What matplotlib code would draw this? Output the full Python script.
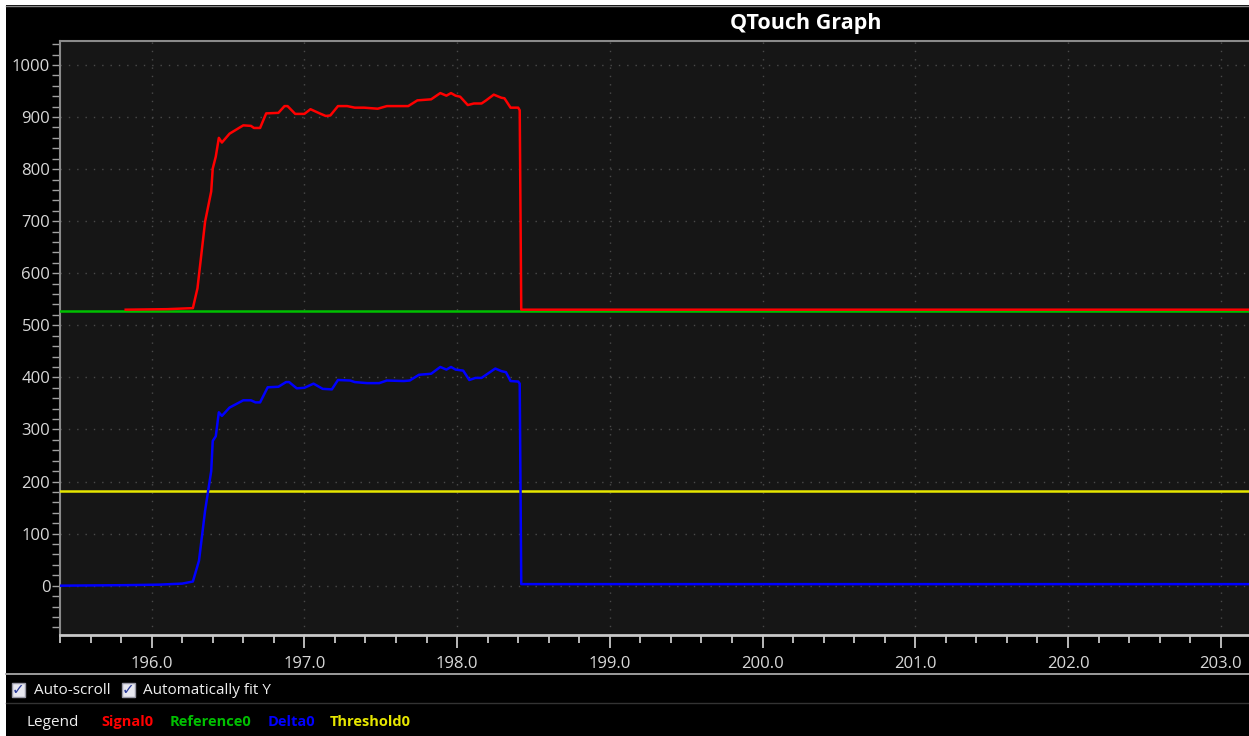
import matplotlib
matplotlib.use("Agg")
import matplotlib.pyplot as plt
from matplotlib.patches import Rectangle
from matplotlib.lines import Line2D
from matplotlib.ticker import MultipleLocator, FormatStrFormatter

# time (s) / value pairs
signal_t = [195.83, 196.10, 196.27, 196.30, 196.35, 196.39, 196.40, 196.42, 196.44,
            196.46, 196.51, 196.60, 196.65, 196.67, 196.71, 196.75, 196.83, 196.87,
            196.89, 196.94, 197.00, 197.04, 197.10, 197.14, 197.17, 197.22, 197.28,
            197.33, 197.39, 197.48, 197.54, 197.68, 197.74, 197.83, 197.89, 197.93,
            197.96, 197.99, 198.02, 198.07, 198.11, 198.16, 198.19, 198.24, 198.29,
            198.31, 198.35, 198.40, 198.41, 198.42, 203.19]
signal_v = [530, 531, 533, 571, 699, 757, 801, 824, 860,
            851, 868, 884, 883, 879, 879, 907, 908, 921,
            921, 906, 906, 915, 907, 902, 903, 921, 921,
            918, 918, 916, 921, 921, 932, 934, 946, 941,
            946, 941, 939, 923, 926, 926, 932, 943, 937,
            936, 918, 918, 913, 530, 530]

reference_t = [195.40, 203.19]
reference_v = [527, 527]

delta_t = [195.40, 195.83, 196.05, 196.20, 196.27, 196.31, 196.35, 196.39, 196.40,
           196.42, 196.44, 196.46, 196.51, 196.60, 196.65, 196.68, 196.71, 196.76,
           196.83, 196.88, 196.90, 196.95, 197.00, 197.06, 197.12, 197.18, 197.22,
           197.30, 197.33, 197.41, 197.49, 197.54, 197.65, 197.69, 197.75, 197.83,
           197.89, 197.93, 197.96, 197.99, 198.04, 198.08, 198.12, 198.16, 198.20,
           198.25, 198.29, 198.32, 198.35, 198.40, 198.41, 198.42, 203.19]
delta_v = [0, 1, 2, 4, 8, 48, 144, 220, 278,
           287, 333, 326, 342, 356, 356, 352, 352, 381,
           382, 391, 391, 379, 380, 388, 378, 377, 395,
           394, 391, 389, 389, 394, 393, 394, 405, 407,
           420, 415, 420, 415, 413, 395, 399, 399, 407,
           417, 412, 410, 393, 392, 388, 3, 3]

threshold_t = [195.40, 203.19]
threshold_v = [181, 181]

legend_names = ["Signal0", "Reference0", "Delta0", "Threshold0"]
legend_colors = ["#ff0000", "#00c000", "#0000ff", "#e6e600"]

W, H = 1249, 736
FONT = ["Open Sans", "DejaVu Sans"]
plt.rcParams["font.family"] = FONT

fig = plt.figure(figsize=(W / 100, H / 100), dpi=100, facecolor="black")


def fx(px):
    return px / W


def fy(py):
    return 1 - py / H


ax = fig.add_axes([fx(60), fy(635), fx(W - 60), fy(41) - fy(635)])
ax.set_facecolor("#161616")

ax.plot(reference_t, reference_v, color=legend_colors[1], lw=1.8, zorder=3)
ax.plot(signal_t, signal_v, color=legend_colors[0], lw=1.8, zorder=4)
ax.plot(threshold_t, threshold_v, color=legend_colors[3], lw=1.8, zorder=3)
ax.plot(delta_t, delta_v, color=legend_colors[2], lw=1.8, zorder=4)

ax.set_xlim(195.40, 203.185)
ax.set_ylim(-94.7, 1046)

ax.xaxis.set_major_locator(MultipleLocator(1.0))
ax.xaxis.set_minor_locator(MultipleLocator(0.2))
ax.xaxis.set_major_formatter(FormatStrFormatter("%.1f"))
ax.yaxis.set_major_locator(MultipleLocator(100))
ax.yaxis.set_minor_locator(MultipleLocator(20))
ax.yaxis.set_major_formatter(FormatStrFormatter("%d"))

ax.grid(True, which="major", color="#4a4a4a", linestyle=(0, (1, 5)), linewidth=1.0)
ax.set_axisbelow(True)

ax.tick_params(axis="x", which="major", length=9, width=1.3, color="#c8c8c8",
               labelcolor="#d8d8d8", labelsize=12, pad=6)
ax.tick_params(axis="x", which="minor", length=6, width=1.3, color="#c8c8c8")
ax.tick_params(axis="y", which="both", length=6, width=1.0, color="#a0a0a0",
               labelcolor="#d8d8d8", labelsize=12, pad=1)

for side in ["top", "left"]:
    ax.spines[side].set_color("#8a8a8a")
    ax.spines[side].set_linewidth(1.5)
ax.spines["bottom"].set_color("#c8c8c8")
ax.spines["bottom"].set_linewidth(2.0)
ax.spines["right"].set_visible(False)

# title
fig.text(fx(806), fy(23), "QTouch Graph", color="white", fontsize=15.5,
         fontweight="bold", ha="center", va="center")

# screenshot frame and separators
fig.add_artist(Rectangle((0, fy(5)), 1, 5 / H, transform=fig.transFigure,
                         facecolor="white", edgecolor="none"))
fig.add_artist(Rectangle((0, 0), 6 / W, 1, transform=fig.transFigure,
                         facecolor="white", edgecolor="none"))
fig.add_artist(Line2D([fx(6), 1], [fy(5.5), fy(5.5)], color="#888888", lw=1))
fig.add_artist(Line2D([fx(6), 1], [fy(674), fy(674)], color="#a8a8a8", lw=1.3))
fig.add_artist(Line2D([fx(6), 1], [fy(703), fy(703)], color="#333333", lw=1.0))

# checkboxes
for bx, label, lx in [(12, "Auto-scroll", 34), (122, "Automatically fit Y", 143)]:
    fig.add_artist(Rectangle((fx(bx), fy(697)), 13 / W, 14 / H,
                             transform=fig.transFigure, facecolor="#e8e8f0",
                             edgecolor="#9a9aa8", lw=1))
    fig.text(fx(bx + 6.5), fy(690), "\u2713", color="#2a3a9a", fontsize=11,
             fontweight="bold", ha="center", va="center", family="DejaVu Sans")
    fig.text(fx(lx), fy(690), label, color="#f0f0f0", fontsize=11,
             ha="left", va="center")

# legend row
fig.text(fx(27), fy(722), "Legend", color="#f0f0f0", fontsize=11,
         ha="left", va="center")
for name, col, lx in zip(legend_names, legend_colors, [101, 170, 268, 330]):
    fig.text(fx(lx), fy(722), name, color=col, fontsize=10.5, fontweight="bold",
             ha="left", va="center")

fig.savefig("out.png", dpi=100, facecolor="black")
